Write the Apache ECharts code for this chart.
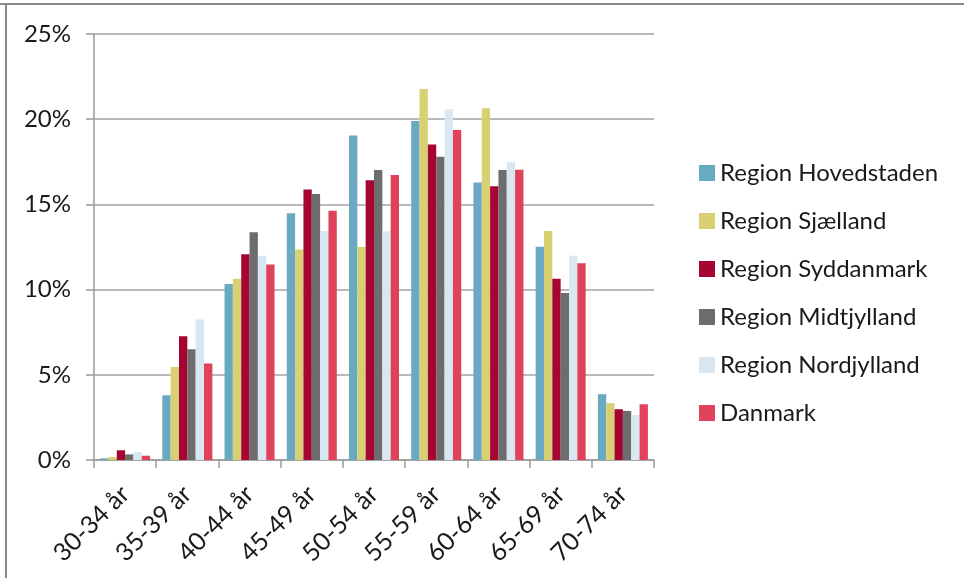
<!DOCTYPE html>
<html>
<head>
<meta charset="utf-8">
<script src="https://cdn.jsdelivr.net/npm/echarts@6/dist/echarts.min.js"></script>
<style>html,body{margin:0;padding:0;background:#fff}#c{width:964px;height:578px}</style>
</head>
<body>
<div id="c"></div>
<script>
const categories = ['30-34 år','35-39 år','40-44 år','45-49 år','50-54 år','55-59 år','60-64 år','65-69 år','70-74 år'];
const seriesNames = ['Region Hovedstaden','Region Sjælland','Region Syddanmark','Region Midtjylland','Region Nordjylland','Danmark'];
const hovedstaden = [0.10, 3.80, 10.33, 14.48, 19.05, 19.89, 16.29, 12.52, 3.86];
const sjaelland   = [0.18, 5.46, 10.64, 12.36, 12.50, 21.77, 20.64, 13.44, 3.33];
const syddanmark  = [0.57, 7.26, 12.07, 15.88, 16.41, 18.52, 16.06, 10.64, 2.98];
const midtjylland = [0.33, 6.50, 13.36, 15.61, 17.02, 17.80, 17.02, 9.80, 2.88];
const nordjylland = [0.47, 8.24, 11.99, 13.44, 13.42, 20.58, 17.47, 11.99, 2.64];
const danmark     = [0.25, 5.67, 11.48, 14.63, 16.73, 19.37, 17.04, 11.54, 3.27];
const yTicks = [0, 5, 10, 15, 20, 25];
const colors = ['#6AA9C2','#D8D072','#A60532','#6D6D6D','#D8E7F2','#E0415B'];

const values = [hovedstaden, sjaelland, syddanmark, midtjylland, nordjylland, danmark];
const font = 'Lato, "Open Sans", sans-serif';
const chart = echarts.init(document.getElementById('c'));
chart.setOption({
  animation: false,
  color: colors,
  graphic: [
    {type:'line', shape:{x1:0,y1:4,x2:964,y2:4}, style:{stroke:'#8a8a8a', lineWidth:2}},
    {type:'line', shape:{x1:6,y1:4,x2:6,y2:578}, style:{stroke:'#8a8a8a', lineWidth:2}}
  ],
  grid: {left:94, right:310, top:34, bottom:118, containLabel:false},
  legend: {
    orient:'vertical', left:694, top:156,
    itemWidth:16, itemHeight:16, itemGap:24,
    icon:'rect',
    textStyle:{fontFamily:font, fontSize:24, lineHeight:24, color:'#1a1a1a'},
    data: seriesNames
  },
  xAxis: {
    type:'category', data:categories,
    axisLine:{lineStyle:{color:'#9a9a9a', width:1.5}},
    axisTick:{show:true, length:8, alignWithLabel:false, lineStyle:{color:'#9a9a9a', width:1.5}},
    axisLabel:{rotate:45, fontFamily:font, fontSize:25, color:'#1a1a1a', margin:30, interval:0}
  },
  yAxis: {
    type:'value', min:0, max:25, interval:5,
    axisLine:{show:true, lineStyle:{color:'#9a9a9a', width:1.5}},
    axisTick:{show:true, length:8, lineStyle:{color:'#9a9a9a', width:1.5}},
    splitLine:{lineStyle:{color:'#a3a3a3', width:1.5}},
    axisLabel:{fontFamily:font, fontSize:24, color:'#1a1a1a', margin:23,
      formatter: v => yTicks.includes(v) ? v + '%' : ''}
  },
  series: seriesNames.map((n,i) => ({
    name:n, type:'bar', data:values[i],
    barGap:'0%', barCategoryGap:'19.6%',
    itemStyle:{color:colors[i]}
  }))
});
</script>
</body>
</html>
